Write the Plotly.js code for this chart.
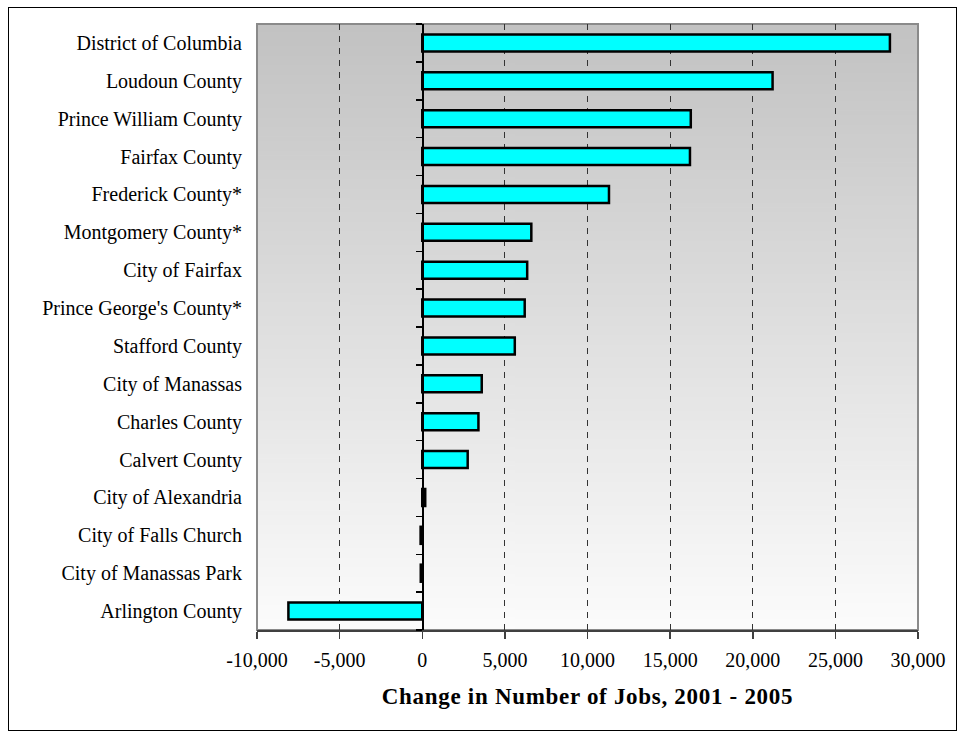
<!DOCTYPE html>
<html>
<head>
<meta charset="utf-8">
<script src="https://cdn.plot.ly/plotly-3.0.1.min.js"></script>
<style>
  html, body { margin: 0; padding: 0; background: #ffffff; }
  #chart { width: 965px; height: 737px; position: absolute; left: 0; top: 0; }
  #frame { position: absolute; left: 8px; top: 7px; width: 947px; height: 722px; border: 1.5px solid #000; pointer-events: none; }
  .xtitle { letter-spacing: 0.7px; }
</style>
</head>
<body>
<div id="chart"></div>
<div id="frame"></div>
<script>
// ---- data ----
const categories = [
  "District of Columbia", "Loudoun County", "Prince William County", "Fairfax County",
  "Frederick County*", "Montgomery County*", "City of Fairfax", "Prince George's County*",
  "Stafford County", "City of Manassas", "Charles County", "Calvert County",
  "City of Alexandria", "City of Falls Church", "City of Manassas Park", "Arlington County"
];
const jobChange = [
  28300, 21200, 16250, 16200,
  11300, 6600, 6350, 6200,
  5600, 3600, 3400, 2750,
  180, -100, -90, -8100
];
const xTickVals = [-10000, -5000, 0, 5000, 10000, 15000, 20000, 25000, 30000];
const xTickText = ["-10,000", "-5,000", "0", "5,000", "10,000", "15,000", "20,000", "25,000", "30,000"];
const xTitle = "Change in Number of Jobs, 2001 - 2005";

// ---- gradient background image for plot area ----
const cv = document.createElement('canvas');
cv.width = 4; cv.height = 256;
const ctx = cv.getContext('2d');
const g = ctx.createLinearGradient(0, 0, 0, 256);
g.addColorStop(0, '#c2c2c2');
g.addColorStop(1, '#fcfcfc');
ctx.fillStyle = g; ctx.fillRect(0, 0, 4, 256);
const bgUrl = cv.toDataURL('image/png');

const boundaries = categories.map((c, i) => i - 0.5).concat([categories.length - 0.5]);

const fontFam = '"Liberation Serif", "Times New Roman", serif';

const trace = {
  type: 'bar',
  orientation: 'h',
  y: categories,
  x: jobChange,
  marker: { color: '#00ffff', line: { color: '#000000', width: 2.5 } },
  hoverinfo: 'x+y'
};

const layout = {
  width: 965,
  height: 737,
  margin: { l: 257, r: 47, t: 24, b: 107 },
  paper_bgcolor: '#ffffff',
  plot_bgcolor: 'rgba(0,0,0,0)',
  showlegend: false,
  bargap: 0.55,
  font: { family: fontFam, color: '#000', size: 20 },
  images: [{
    source: bgUrl, xref: 'paper', yref: 'paper', x: 0, y: 1, sizex: 1, sizey: 1,
    sizing: 'stretch', layer: 'below', xanchor: 'left', yanchor: 'top'
  }],
  xaxis: {
    range: [-10000, 30000],
    tickvals: xTickVals,
    ticktext: xTickText,
    ticks: 'outside', ticklen: 7, tickcolor: '#404040', tickwidth: 1.5,
    ticklabelstandoff: 4,
    showline: true, linecolor: '#404040', linewidth: 2,
    showgrid: true, gridcolor: '#333333', gridwidth: 1, griddash: '6px,6px',
    zeroline: false,
    tickfont: { size: 20, family: fontFam, color: '#000' },
    title: { text: xTitle, standoff: 18, font: { size: 23, family: fontFam, color: '#000', weight: 'bold' } },
    fixedrange: true
  },
  yaxis: {
    type: 'category',
    categoryorder: 'array',
    categoryarray: categories,
    autorange: 'reversed',
    showgrid: false, zeroline: false, showline: false,
    ticks: '',
    ticklabelstandoff: 14,
    tickfont: { size: 20, family: fontFam, color: '#000' },
    fixedrange: true
  },
  yaxis2: {
    overlaying: 'y',
    anchor: 'free',
    position: 0.25,
    side: 'left',
    range: [categories.length - 0.5, -0.5],
    tickvals: boundaries,
    showticklabels: false,
    ticks: 'outside', ticklen: 6, tickcolor: '#000', tickwidth: 1.5,
    showline: true, linecolor: '#000', linewidth: 1.5,
    showgrid: false, zeroline: false,
    fixedrange: true
  },
  shapes: [{
    type: 'rect', xref: 'paper', yref: 'paper', x0: 0, x1: 1, y0: 0, y1: 1,
    line: { color: '#8a8a8a', width: 2 }, fillcolor: 'rgba(0,0,0,0)', layer: 'below'
  }]
};

const ghost = { type: 'scatter', x: [null], y: [null], yaxis: 'y2', hoverinfo: 'skip', showlegend: false };

Plotly.newPlot('chart', [trace, ghost], layout, { displayModeBar: false, staticPlot: true });
</script>
</body>
</html>
